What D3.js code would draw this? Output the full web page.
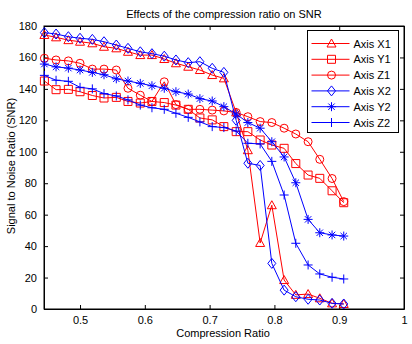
<!DOCTYPE html>
<html>
<head>
<meta charset="utf-8">
<script src="https://cdn.jsdelivr.net/npm/d3@7"></script>
<style>
  body { margin: 0; background: #fff; }
  text { font-family: "Liberation Sans", Arial, sans-serif; font-size: 11px; fill: #000; }
</style>
</head>
<body>
<div id="chart"></div>
<script>
const compressionRatio = [0.445, 0.463, 0.482, 0.500, 0.519, 0.537, 0.556, 0.574, 0.593, 0.611, 0.630, 0.648, 0.667,
    0.685, 0.704, 0.722, 0.741, 0.759, 0.778, 0.796, 0.815, 0.833, 0.852, 0.870, 0.889, 0.907];

const axisX1 = [174.3, 172.8, 171, 170, 169, 166.8, 165.8, 163.6, 161.5, 161.5, 159, 156.3, 154.1, 152, 148.8, 146.7,
    125, 101, 42, 66, 18.4, 9, 9.5, 6.8, 3.6, 3.2];
const axisY1 = [145, 139.5, 139.7, 138.2, 135.8, 134.2, 134.6, 132, 131, 132, 131.3, 129.7, 127, 121.5, 120.3, 116,
    112.8, 112.8, 107.5, 104.3, 102.2, 92.5, 85.2, 83.1, 75.2, 67.6];
const axisZ1 = [159.5, 158.4, 157.8, 156.3, 152.6, 152.6, 152, 140.4, 136, 132, 144.5, 130, 127, 127, 126.5, 126,
    125, 122.3, 119.2, 118.6, 115, 111.3, 106.4, 95.2, 83, 68.3];
const axisX2 = [175.8, 174.9, 173.2, 172.2, 171.5, 170, 167.9, 165.8, 163.6, 162.4, 160.8, 158.4, 156.7, 157.3, 153.1, 150.5,
    120, 92.7, 91.3, 29, 12, 7.8, 6.2, 5.7, 3.6, 3.2];
const axisY2 = [155.8, 154, 153.2, 152, 150.5, 149, 146.4, 145, 143.5, 142, 140.4, 138.2, 136.7, 133.8, 132.3, 128.7,
    124, 118.6, 115, 106.4, 96.7, 80.3, 57, 48.5, 47.1, 46.4];
const axisZ2 = [148.6, 145.5, 144.8, 141, 140, 137, 135.5, 133, 129.7, 128, 127, 124.5, 121.9, 119, 116, 115.4,
    113.2, 105.4, 105, 93.9, 72.5, 41.8, 28, 22.3, 20.2, 19.1];

const seriesNames = ['Axis X1', 'Axis Y1', 'Axis Z1', 'Axis X2', 'Axis Y2', 'Axis Z2'];
const seriesValues = [axisX1, axisY1, axisZ1, axisX2, axisY2, axisZ2];
const seriesMarkers = ['triangle', 'square', 'circle', 'diamond', 'asterisk', 'plus'];
const seriesColors = ['#ff0000', '#ff0000', '#ff0000', '#0000ff', '#0000ff', '#0000ff'];

const xTicks = [0.5, 0.6, 0.7, 0.8, 0.9, 1];
const yTicks = [0, 20, 40, 60, 80, 100, 120, 140, 160, 180];

const svgWidth = 412;
const svgHeight = 344;
const margin = { top: 26, right: 8, bottom: 35, left: 44 };
const width = svgWidth - margin.left - margin.right;
const height = svgHeight - margin.top - margin.bottom;

// matlab style open markers, drawn as paths centred on 0,0
function markerPath(type) {
    const p = d3.path();
    const r = 4.5;
    if (type === 'triangle') {
        p.moveTo(0, -r); p.lineTo(r, r - 1); p.lineTo(-r, r - 1); p.closePath();
    } else if (type === 'square') {
        p.rect(-4, -4, 8, 8);
    } else if (type === 'circle') {
        p.moveTo(4, 0); p.arc(0, 0, 4, 0, 2 * Math.PI);
    } else if (type === 'diamond') {
        p.moveTo(0, -r - 0.5); p.lineTo(r - 0.5, 0); p.lineTo(0, r + 0.5); p.lineTo(-r + 0.5, 0); p.closePath();
    } else if (type === 'asterisk') {
        const d = 3.2;
        p.moveTo(-r, 0); p.lineTo(r, 0);
        p.moveTo(0, -r); p.lineTo(0, r);
        p.moveTo(-d, -d); p.lineTo(d, d);
        p.moveTo(-d, d); p.lineTo(d, -d);
    } else if (type === 'plus') {
        p.moveTo(-r, 0); p.lineTo(r, 0);
        p.moveTo(0, -r); p.lineTo(0, r);
    }
    return p.toString();
}

const svg = d3.select('#chart')
    .append('svg')
    .attr('width', svgWidth)
    .attr('height', svgHeight);

const chartGroup = svg.append('g')
    .attr('transform', `translate(${margin.left}, ${margin.top})`);

const xScale = d3.scaleLinear().domain([0.4444, 1]).range([0, width]);
const yScale = d3.scaleLinear().domain([0, 180]).range([height, 0]);

// axes with inward ticks, mirrored on top and right like matlab's box
const tickLen = 4;
chartGroup.append('g')
    .attr('transform', `translate(0, ${height})`)
    .call(d3.axisBottom(xScale).tickValues(xTicks).tickSizeInner(-tickLen).tickSizeOuter(0).tickPadding(7)
        .tickFormat(d => d === 1 ? '1' : d3.format('.1f')(d)));
chartGroup.append('g')
    .call(d3.axisTop(xScale).tickValues(xTicks).tickSizeInner(-tickLen).tickSizeOuter(0).tickFormat(''));
chartGroup.append('g')
    .call(d3.axisLeft(yScale).tickValues(yTicks).tickSizeInner(-tickLen).tickSizeOuter(0).tickPadding(7));
chartGroup.append('g')
    .attr('transform', `translate(${width}, 0)`)
    .call(d3.axisRight(yScale).tickValues(yTicks).tickSizeInner(-tickLen).tickSizeOuter(0).tickFormat(''));

chartGroup.selectAll('.domain').attr('stroke', '#000');
chartGroup.selectAll('.tick line').attr('stroke', '#000');
chartGroup.selectAll('.tick text')
    .style('font-family', '"Liberation Sans", Arial, sans-serif')
    .style('font-size', '11px')
    .attr('fill', '#000');

chartGroup.append('rect')
    .attr('width', width)
    .attr('height', height)
    .attr('fill', 'none')
    .attr('stroke', '#000')
    .attr('stroke-width', 1);

const line = d3.line()
    .x((d, i) => xScale(compressionRatio[i]))
    .y(d => yScale(d));

seriesValues.forEach((values, s) => {
    chartGroup.append('path')
        .datum(values)
        .attr('fill', 'none')
        .attr('stroke', seriesColors[s])
        .attr('stroke-width', 1)
        .attr('d', line);

    chartGroup.selectAll(`.marker-${s}`)
        .data(values)
        .enter()
        .append('path')
        .attr('class', `marker-${s}`)
        .attr('transform', (d, i) => `translate(${xScale(compressionRatio[i])}, ${yScale(d)})`)
        .attr('d', markerPath(seriesMarkers[s]))
        .attr('fill', 'none')
        .attr('stroke', seriesColors[s])
        .attr('stroke-width', 1);
});

// title and labels
svg.append('text')
    .attr('x', 224)
    .attr('y', 18)
    .attr('text-anchor', 'middle')
    .text('Effects of the compression ratio on SNR');

svg.append('text')
    .attr('x', 223)
    .attr('y', 337)
    .attr('text-anchor', 'middle')
    .text('Compression Ratio');

svg.append('text')
    .attr('transform', 'translate(15, 166) rotate(-90)')
    .attr('text-anchor', 'middle')
    .text('Signal to Noise Ratio (SNR)');

// legend
const legend = svg.append('g').attr('transform', 'translate(307.5, 30.5)');
legend.append('rect')
    .attr('width', 91)
    .attr('height', 102)
    .attr('fill', '#fff')
    .attr('stroke', '#000');

seriesNames.forEach((name, s) => {
    const y = 13 + s * 15.8;
    legend.append('line')
        .attr('x1', 4).attr('x2', 42)
        .attr('y1', y).attr('y2', y)
        .attr('stroke', seriesColors[s]);
    legend.append('path')
        .attr('transform', `translate(24, ${y})`)
        .attr('d', markerPath(seriesMarkers[s]))
        .attr('fill', 'none')
        .attr('stroke', seriesColors[s]);
    legend.append('text')
        .attr('x', 46)
        .attr('y', y + 4)
        .text(name);
});
</script>
</body>
</html>
